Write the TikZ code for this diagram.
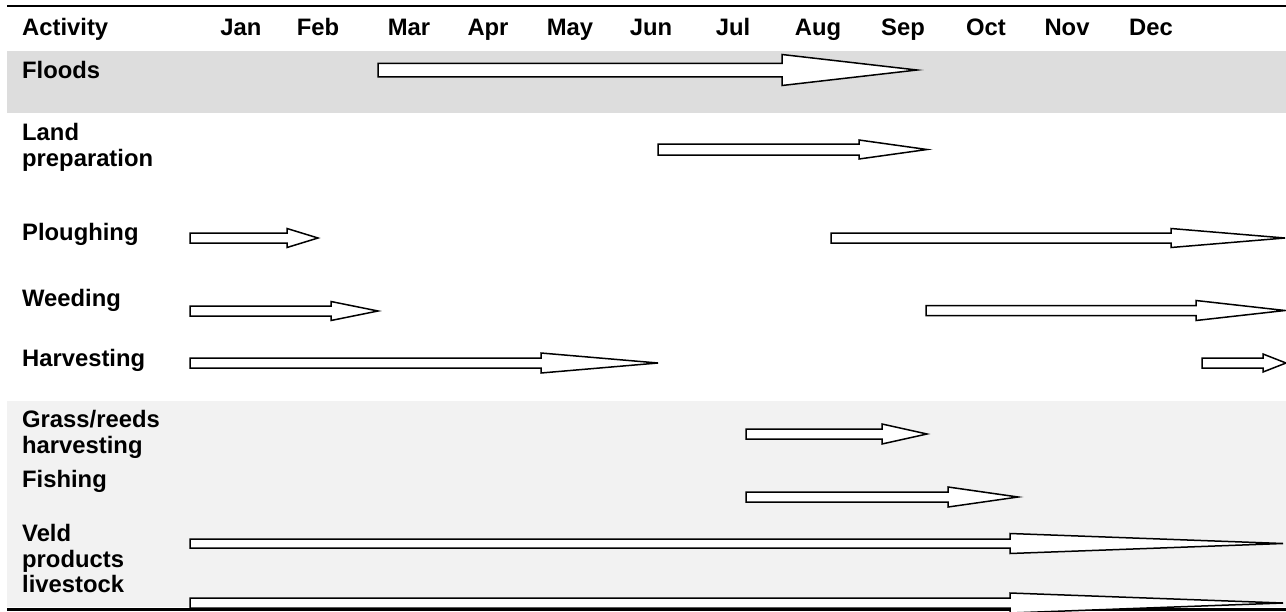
\documentclass[tikz,border=0pt]{standalone}
\usepackage{fontspec}
\setmainfont{Liberation Sans}
\definecolor{bandA}{HTML}{DDDDDD}
\definecolor{bandB}{HTML}{F2F2F2}
\newcommand\blockarr[6]{%
  \draw[arrshape] (#1,#4-#5) -- (#2,#4-#5) -- (#2,#4-#6) -- (#3,#4) -- (#2,#4+#6) -- (#2,#4+#5) -- (#1,#4+#5) -- cycle;}
\begin{document}
\begin{tikzpicture}[x=1pt,y=-1pt,
  lab/.style={anchor=base west,inner sep=0pt,align=left,font=\fontsize{23.8}{26.5}\selectfont\bfseries},
  mon/.style={anchor=base,inner sep=0pt,font=\fontsize{23.8}{26.5}\selectfont\bfseries},
  arrshape/.style={draw=black,fill=white,line width=1.5pt,line join=miter}]
\useasboundingbox (0,0) rectangle (1286,611);
% bands
\fill[bandA] (7,51) rectangle (1286,113);
\fill[bandB] (7,401) rectangle (1286,607);
% rules
\draw[line width=2pt] (7,6) -- (1286,6);
% header
\node[lab] (act) at (22,35) {Activity};
\foreach \m/\x in {Jan/241,Feb/318,Mar/409,Apr/488,May/570,Jun/651,Jul/733,Aug/818,Sep/903,Oct/986,Nov/1067,Dec/1151}
  \node[mon] (m\m) at (\x,35) {\m};
% labels (two-line labels anchored at the baseline of their last line)
\node[lab] (floods) at (22,78) {Floods};
\node[lab] (land) at (22,166.5) {Land\\preparation};
\node[lab] (plough) at (22,240) {Ploughing};
\node[lab] (weed) at (22,306) {Weeding};
\node[lab] (harv) at (22,366) {Harvesting};
\node[lab] (grass) at (22,453.5) {Grass/reeds\\harvesting};
\node[lab] (fish) at (22,487) {Fishing};
\node[lab] (veld) at (22,567.5) {Veld\\products};
\node[lab] (live) at (22,592) {livestock};
% arrows
\blockarr{378}{782}{917}{70}{6.75}{15.5}
\blockarr{658}{859}{927}{149.5}{5.5}{9.5}
\blockarr{190}{287}{318}{238}{5}{9.5}
\blockarr{831}{1171}{1285}{238}{5}{9.5}
\blockarr{190}{331}{378}{311}{5}{9.5}
\blockarr{926}{1196}{1285}{310.5}{5}{10}
\blockarr{190}{541}{658}{363}{5}{10}
\blockarr{1202}{1263}{1286}{363}{5}{9}
\blockarr{746}{882}{927}{434}{5}{10}
\blockarr{746}{948}{1018}{497}{5}{10}
\blockarr{190}{1010}{1283}{543.5}{4.5}{10}
\draw[line width=3pt] (7,609) -- (1286,609);
\blockarr{190}{1010}{1283}{603}{5}{10}
\end{tikzpicture}
\end{document}
